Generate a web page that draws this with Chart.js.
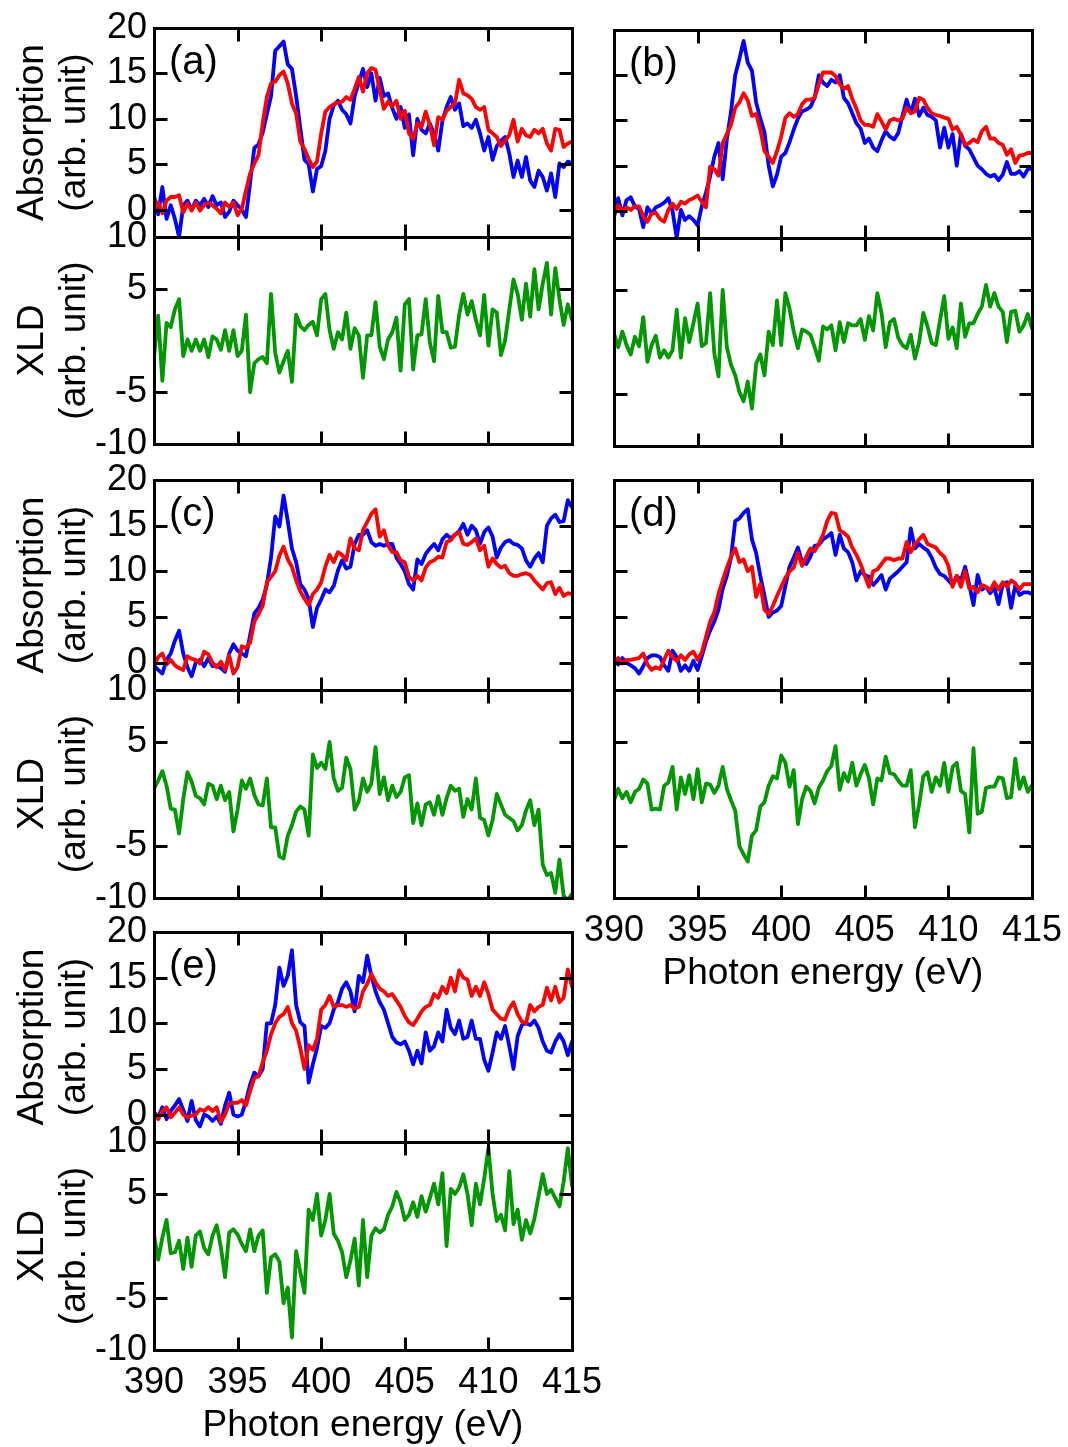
<!DOCTYPE html>
<html>
<head>
<meta charset="utf-8">
<title>N K-edge absorption and XLD spectra</title>
<script src="https://cdn.jsdelivr.net/npm/chart.js@4/dist/chart.umd.min.js"></script>
<style>
  html, body { margin: 0; padding: 0; background: #fff; overflow: hidden; }
  #page { position: relative; width: 1068px; height: 1447px; background: #fff; overflow: hidden; }
  #page canvas { position: absolute; }
</style>
</head>
<body>
<div id="page"></div>
<script>
// Photon energy sampling grid (eV), 0.25 eV step from 390 to 415
const energy = Array.from({ length: 101 }, (_, i) => 390 + 0.25 * i);
const energyTicks = [390, 395, 400, 405, 410, 415];
const absTicks = [0, 5, 10, 15, 20];
const xldTicks = [-10, -5, 5, 10];

// ---- (a) ----
const aBlue = [1.5, -0.5, 2.5, -1.0, 0.5, -1.0, -3.0, 0.5, 1.0, 0.0,
  1.0, 0.5, 1.2, 0.3, 1.5, 0.5, 0.8, -0.8, -0.2, 1.0,
  0.5, 0.0, -0.8, 3.0, 6.8, 7.2, 8.5, 10.5, 12.5, 17.5,
  18.0, 18.5, 16.0, 15.5, 12.5, 9.0, 5.5, 5.0, 2.0, 4.5,
  4.8, 6.5, 10.0, 11.5, 12.0, 11.0, 10.5, 9.5, 12.5, 14.0,
  15.5, 13.5, 15.0, 12.0, 14.5, 12.5, 12.8, 11.2, 10.0, 11.3,
  9.0, 10.5, 6.0, 10.0, 8.8, 8.4, 9.5, 8.4, 6.5, 9.8,
  11.3, 12.4, 11.0, 11.7, 9.2, 9.5, 9.0, 9.9, 8.4, 6.5,
  8.0, 5.5, 7.0, 7.6, 8.0, 6.2, 3.6, 5.4, 3.6, 5.8,
  3.2, 2.5, 4.3, 3.6, 2.1, 4.0, 1.4, 5.1, 4.7, 5.3,
  5.1];
const aRed = [-0.1, 0.8, -0.4, 1.0, 1.4, 1.4, 1.6, -0.3, 0.7, -0.1,
  0.8, -0.1, 0.5, 0.8, 0.5, 0.1, -0.4, 0.8, 0.3, 0.8,
  -0.6, 0.1, 2.1, 4.0, 5.1, 6.0, 9.5, 12.4, 13.9, 14.1,
  14.8, 15.2, 13.9, 11.7, 10.6, 7.5, 6.7, 5.6, 4.7, 5.3,
  8.4, 10.8, 11.3, 11.6, 11.8, 11.9, 12.4, 12.1, 13.3, 14.6,
  13.0, 15.0, 15.6, 15.4, 13.2, 11.1, 11.9, 11.4, 12.0, 10.0,
  10.9, 8.4, 7.8, 9.5, 9.1, 10.8, 9.3, 7.1, 10.2, 9.9,
  10.9, 11.3, 11.7, 14.3, 12.8, 12.6, 12.2, 11.3, 11.0, 11.3,
  8.8, 8.4, 8.0, 7.0, 7.6, 8.2, 9.9, 7.5, 8.9, 8.2,
  8.0, 8.8, 8.4, 8.9, 7.3, 6.5, 8.9, 8.8, 6.9, 7.3,
  7.5];
const aXld = [-1.6, 2.4, -3.9, 1.7, 1.3, 3.0, 4.0, -1.5, 0.1, -1.0,
  0.1, -1.0, 0.1, -1.6, 0.4, 0.1, -0.9, 1.0, -1.0, 1.0,
  -1.5, -1.0, 2.5, -5.0, -2.2, -1.8, -1.6, -2.2, 4.5, -1.2,
  -3.1, -2.0, -1.0, -4.0, 2.5, 1.4, 1.0, 1.5, 1.8, 0.5,
  4.0, 4.5, 1.0, -0.8, 0.8, 0.1, 2.7, -0.8, 1.2, 0.5,
  -3.6, 0.5, 0.5, 3.7, -0.6, -1.8, 0.1, 0.8, 2.2, -2.9,
  3.5, 4.0, -2.8, 0.5, 0.6, 4.0, -0.2, -2.0, 4.3, 0.8,
  0.8, -0.7, -0.6, 2.5, 4.5, 2.5, 3.8, 2.0, 0.5, 4.4,
  -0.5, 3.0, 2.7, -1.4, 0.0, 3.0, 5.9, 4.5, 2.0, 5.5,
  2.3, 6.9, 3.0, 5.5, 7.5, 2.5, 7.0, 4.0, 1.5, 3.5,
  2.0];

// ---- (b) ----
const bBlue = [-0.7, 1.4, -0.5, 1.2, 1.5, 0.5, 0.2, -1.8, 0.4, -0.3,
  0.4, 0.6, 0.9, 1.4, 0.0, -3.0, 0.1, -1.0, -0.6, -1.0,
  -1.6, 0.5, 2.0, 3.8, 6.0, 7.5, 3.5, 7.9, 11.0, 15.0,
  16.8, 18.8, 16.4, 15.5, 12.0, 10.2, 8.7, 5.0, 2.7, 4.0,
  6.0, 6.4, 7.6, 9.0, 10.2, 11.0, 11.2, 11.5, 12.5, 15.0,
  14.2, 13.8, 14.5, 14.2, 15.0, 12.5, 11.9, 10.8, 9.7, 9.1,
  7.5, 8.0, 7.0, 6.6, 7.8, 8.8, 8.2, 7.9, 8.6, 10.5,
  12.3, 10.8, 12.4, 10.5, 11.4, 10.6, 10.4, 10.0, 7.0, 9.2,
  7.0, 8.5, 5.0, 8.5, 7.2, 6.8, 5.9, 5.0, 4.6, 4.1,
  3.8, 4.0, 3.4, 4.0, 5.4, 4.1, 4.1, 4.4, 3.8, 4.6,
  4.7];
const bRed = [-0.3, 0.6, -0.1, 0.4, 0.1, 0.5, 0.5, -0.6, -1.2, -0.3,
  -0.2, -0.9, -1.2, 0.1, 0.8, 0.2, 1.0, 0.8, 1.2, 1.4,
  1.7, 1.0, 0.4, 4.9, 4.6, 3.9, 7.5, 8.5, 9.5, 11.4,
  12.0, 13.0, 12.2, 10.5, 10.7, 9.0, 6.6, 6.0, 5.3, 6.6,
  8.2, 10.3, 10.8, 10.4, 10.7, 11.8, 12.3, 12.3, 12.5, 14.0,
  15.3, 15.3, 15.3, 14.9, 14.0, 13.5, 13.8, 12.4, 11.3, 10.0,
  9.5, 9.5, 9.3, 10.7, 9.9, 9.0, 10.0, 10.2, 10.0, 10.2,
  11.4, 10.8, 11.0, 12.5, 12.3, 11.4, 10.8, 10.6, 10.5, 10.3,
  10.2, 9.0, 9.3, 8.4, 7.3, 7.5, 7.9, 7.6, 8.8, 9.3,
  8.0, 8.0, 7.5, 7.3, 6.2, 6.8, 5.3, 6.1, 6.2, 6.4,
  6.4];
const bXld = [0.8, -0.5, 1.0, -0.3, -1.2, 0.5, -0.4, 2.4, -1.9, -0.3,
  0.6, -1.5, -0.8, -1.5, -0.8, 3.1, -1.5, 2.3, 0.0, 1.8,
  3.7, -0.4, -0.1, 4.7, -1.1, -3.3, 5.0, -0.5, -2.2, -3.2,
  -4.8, -5.7, -3.8, -6.4, -2.1, -1.2, -3.2, 1.0, -0.3, 4.0,
  -0.3, 4.7, 3.2, 1.0, -0.6, 1.2, 1.0, 0.7, -0.5, -1.8,
  1.5, 1.2, 1.6, -0.8, 1.9, 0.0, 1.8, 1.6, 1.6, 2.2,
  0.2, 2.5, 1.1, 4.7, 2.8, -0.5, 1.9, 2.2, 0.4, -0.3,
  -0.6, 0.7, -1.6, 0.0, 2.8, 1.5, -0.1, -0.3, 2.1, 4.4,
  0.3, 1.4, -0.6, 3.7, 0.5, 1.8, 1.8, 2.7, 3.4, 5.5,
  3.4, 4.7, 3.4, 2.9, 0.0, 2.9, 3.0, 1.0, 1.6, 2.7,
  1.3];

// ---- (c) ----
const cBlue = [-0.3, -0.8, -1.2, 0.3, 1.0, 2.4, 3.5, 1.0, -0.5, -1.5,
  0.0, 0.3, -0.4, 0.5, -0.4, -0.3, -0.6, -1.0, 1.0, 2.0,
  1.3, 1.0, 0.7, 3.0, 5.4, 6.0, 6.9, 8.5, 11.5, 16.0,
  14.9, 18.3, 15.5, 12.5, 11.0, 8.6, 8.0, 7.0, 3.9, 6.0,
  6.9, 8.0, 7.7, 8.4, 10.1, 11.2, 10.3, 10.5, 13.0, 14.0,
  14.0, 14.5, 13.2, 12.8, 13.0, 12.8, 13.0, 13.0, 11.5, 10.8,
  10.0, 8.6, 8.0, 11.3, 10.8, 11.9, 12.5, 13.0, 12.3, 13.5,
  14.0, 13.6, 14.0, 14.4, 15.2, 14.0, 15.0, 14.5, 13.0, 14.3,
  14.8, 13.8, 11.5, 12.6, 13.2, 13.4, 13.0, 12.9, 12.5, 11.2,
  10.5, 11.4, 12.0, 11.0, 15.0, 15.8, 16.2, 15.4, 15.5, 17.8,
  17.0];
const cRed = [-0.3, 0.6, 1.0, -0.2, 0.3, -0.3, -0.6, -0.8, 0.7, 0.4,
  0.3, -0.1, 1.2, 0.9, 0.0, -0.5, 0.1, -0.8, 0.8, -1.2,
  -0.5, 1.8, 1.6, 2.2, 4.5, 5.3, 6.2, 8.8, 9.4, 10.0,
  11.7, 12.7, 11.3, 10.5, 9.0, 7.8, 7.0, 6.3, 7.5, 8.0,
  8.8, 10.5, 11.8, 11.0, 12.1, 11.8, 11.2, 13.6, 12.5, 12.3,
  14.5, 15.4, 16.3, 16.8, 13.8, 14.5, 12.8, 12.1, 12.1, 11.2,
  11.0, 9.4, 9.0, 9.5, 9.0, 10.4, 11.0, 11.2, 11.6, 11.5,
  13.2, 13.4, 14.0, 14.3, 13.0, 12.9, 13.2, 13.6, 12.3, 12.8,
  10.5, 11.4, 10.8, 10.4, 10.6, 9.8, 9.5, 9.5, 9.7, 9.8,
  9.6, 9.0, 8.5, 8.0, 8.7, 8.8, 7.5, 8.2, 7.3, 7.6,
  7.5];
const cXld = [0.5, 1.3, 2.2, 0.8, -1.4, -1.5, -3.8, -0.5, 2.1, 1.2,
  -0.2, -0.4, -1.0, 1.0, 0.8, -0.5, 0.8, -0.6, 0.2, -3.6,
  -1.5, 1.3, 0.5, 1.5, -0.1, -1.0, -1.1, 1.5, -3.2, -3.2,
  -6.0, -6.2, -4.0, -3.0, -1.7, -1.2, -1.5, -4.0, 3.8, 2.5,
  3.0, 2.4, 5.0, 1.5, 0.3, 0.6, 3.5, 2.4, -1.5, -0.7,
  1.5, 0.2, 1.0, 4.5, 0.0, 1.6, -0.6, 0.8, -0.3, 0.2,
  1.6, 1.8, -2.8, -0.9, -3.0, -1.0, -0.8, -2.0, -0.2, -2.0,
  -0.4, 0.8, 0.3, 0.5, -2.2, -0.5, -1.5, 1.5, -2.3, -2.5,
  -4.0, -2.5, 0.0, -1.0, -2.0, -2.3, -2.6, -3.5, -3.0, -1.6,
  -0.6, -3.0, -1.5, -6.8, -7.8, -7.6, -9.5, -6.3, -9.8, -10.2,
  -9.6];

// ---- (d) ----
const dBlue = [0.4, -0.2, 0.5, 0.0, -0.3, -0.6, -1.2, -0.4, 0.5, 0.8,
  0.8, 0.6, -0.3, -0.9, 1.3, 0.6, -0.9, -0.3, -0.9, 0.2,
  -0.8, 0.7, 2.3, 3.5, 4.5, 5.8, 8.1, 9.5, 11.5, 15.5,
  15.8, 16.4, 16.8, 13.5, 12.0, 9.5, 7.3, 5.0, 5.5, 5.7,
  6.2, 8.4, 10.5, 11.5, 12.6, 11.0, 10.8, 11.6, 12.8, 12.9,
  13.5, 13.8, 14.2, 11.8, 14.0, 12.5, 12.1, 11.0, 9.0, 10.0,
  9.6, 9.4, 8.5, 9.0, 9.6, 8.0, 9.2, 9.6, 10.0, 10.5,
  11.0, 14.7, 12.5, 13.0, 12.6, 12.3, 11.5, 10.4, 9.7, 9.5,
  9.0, 8.5, 9.5, 9.0, 10.5, 8.5, 6.3, 9.6, 8.0, 8.3,
  7.6, 8.2, 6.4, 8.6, 8.8, 6.0, 8.5, 7.4, 7.7, 7.7,
  7.5];
const dRed = [0.2, 0.5, -0.1, 0.3, 0.3, 0.4, 0.5, 1.0, -0.2, -0.8,
  -0.5, -0.7, 0.3, 1.3, 0.6, 0.2, 0.8, 0.3, 0.9, 1.2,
  0.3, 1.1, 2.8, 4.5, 5.5, 7.5, 9.0, 10.4, 11.6, 12.5,
  11.0, 11.3, 10.0, 10.5, 7.2, 8.6, 5.8, 5.3, 6.2, 7.3,
  8.3, 9.3, 10.0, 10.4, 12.0, 10.6, 11.6, 12.5, 12.2, 13.0,
  14.0, 15.5, 16.4, 16.3, 14.5, 14.2, 13.8, 12.6, 11.8, 10.8,
  9.5, 8.3, 10.0, 10.2, 10.8, 11.4, 11.4, 11.2, 11.4, 11.4,
  13.2, 12.1, 13.0, 13.5, 14.0, 13.0, 12.8, 12.6, 12.0, 11.6,
  10.6, 8.3, 9.5, 8.3, 10.0, 8.1, 8.3, 7.7, 8.5, 8.3,
  7.9, 8.8, 8.0, 8.8, 8.3, 9.0, 8.7, 8.0, 8.6, 8.6,
  8.6];
const dXld = [-0.6, 0.5, -0.4, 0.2, -0.8, 0.2, 0.5, 1.4, 1.0, -1.5,
  -1.4, -1.5, 0.8, 1.1, 2.6, -1.5, 1.6, 0.0, 1.8, -0.5,
  2.4, -0.8, 1.0, 0.9, 0.1, 0.8, 2.6, 0.5, -0.6, -1.6,
  -5.0, -5.8, -6.5, -4.0, -3.5, -1.2, -0.8, 0.8, 1.7, 1.5,
  3.7, 3.0, 0.7, 2.3, -2.9, -0.5, 0.7, 0.3, -0.9, 0.6,
  1.3, 2.2, 2.7, 4.6, 0.4, 2.0, 1.2, 3.0, 0.8, 1.9,
  2.8, 1.5, -1.0, 1.5, 1.3, 3.6, 2.0, 1.9, 1.3, 0.8,
  0.8, 2.3, -3.2, -1.0, 1.7, 2.1, 0.2, 1.6, 0.8, 3.0,
  0.2, 2.6, 3.0, 0.3, 0.0, -3.7, 4.4, -1.9, -1.7, 0.6,
  0.7, 0.7, 1.6, 1.5, -0.4, -0.3, 3.4, 0.5, 1.6, 0.2,
  0.8];

// ---- (e) ----
const eBlue = [0.3, -0.3, 0.8, -0.5, 0.4, 1.0, 1.7, 0.5, -0.7, 1.5,
  -0.6, -1.3, 0.0, -0.2, -0.7, -0.2, -1.0, 1.0, 2.4, 0.0,
  -0.2, 0.0, 1.5, 3.3, 4.6, 4.2, 5.0, 10.0, 10.0, 12.0,
  16.1, 14.1, 15.2, 18.0, 12.0, 10.1, 9.7, 3.5, 5.5, 7.3,
  9.7, 9.5, 10.0, 11.5, 12.3, 13.8, 14.5, 13.5, 11.3, 15.2,
  14.5, 17.4, 15.2, 13.5, 12.3, 11.5, 10.0, 8.5, 7.9, 7.7,
  8.0, 7.0, 5.5, 7.0, 5.6, 9.0, 7.0, 7.5, 9.0, 8.0,
  11.5, 9.5, 8.8, 10.3, 8.3, 8.5, 10.3, 8.3, 8.3, 6.0,
  4.8, 6.8, 9.0, 8.3, 9.7, 7.5, 5.0, 8.6, 9.8, 10.0,
  9.8, 10.3, 9.5, 8.0, 7.0, 6.8, 8.0, 8.8, 8.0, 6.5,
  8.0];
const eRed = [0.3, -0.5, 0.4, 0.8, -0.3, 0.2, 0.8, 0.0, -0.3, -0.1,
  0.0, 0.6, 0.4, 0.8, 0.4, 0.8, -0.8, 0.0, 1.2, 1.3,
  1.3, 1.6, 1.0, 2.6, 4.0, 4.2, 5.7, 7.0, 8.8, 10.0,
  10.7, 11.0, 11.8, 10.0, 9.2, 7.3, 5.0, 7.6, 7.1, 8.3,
  11.5, 12.0, 13.0, 11.8, 12.0, 12.0, 11.8, 12.0, 11.6, 11.8,
  13.5, 14.3, 15.4, 14.5, 13.8, 13.5, 13.0, 13.2, 12.5, 11.8,
  10.8, 10.1, 9.8, 10.5, 11.3, 11.8, 12.0, 13.2, 12.8, 14.0,
  13.3, 15.0, 13.5, 15.8, 15.0, 14.8, 13.0, 14.0, 13.0, 14.5,
  13.2, 11.5, 11.0, 10.5, 10.4, 11.6, 12.3, 11.0, 10.2, 10.0,
  12.0, 11.3, 11.8, 12.0, 13.9, 12.5, 14.0, 12.3, 12.8, 15.9,
  14.0];
const eXld = [1.1, -1.3, 0.8, 2.5, -0.7, -0.6, 0.5, -2.2, 0.8, -2.0,
  1.0, 1.4, -0.2, -0.8, 1.0, 2.0, -0.1, -3.0, 1.3, 1.6,
  1.1, 0.2, -0.5, 1.6, -0.5, 1.0, 1.5, -4.5, -1.1, -0.8,
  -1.5, -5.5, -4.0, -8.8, -0.5, -2.5, -4.5, 3.5, 2.5, 5.0,
  1.0, 2.5, 5.0, 1.2, 0.5, -0.6, -3.0, -1.4, 0.7, -3.8,
  2.5, -3.0, 1.0, 1.7, 1.3, 1.6, 3.0, 3.8, 5.2, 4.2,
  2.5, 3.0, 4.2, 2.8, 4.8, 3.3, 4.6, 6.0, 4.0, 7.0,
  0.0, 5.5, 5.0, 5.6, 6.9, 5.0, 2.0, 6.0, 4.0, 6.5,
  9.4, 5.0, 2.4, 3.0, 1.5, 7.2, 2.1, 3.5, 0.6, 2.5,
  1.2, 2.6, 4.8, 6.9, 5.0, 5.4, 4.6, 3.8, 6.2, 9.4,
  5.8];

// ---------------- layout & styling ----------------
const FONT = '"Liberation Sans", Arial, Helvetica, sans-serif';
Chart.defaults.font.family = FONT;
Chart.defaults.color = '#000';

const BLUE = '#0000ff', RED = '#ff0000', GREEN = '#009600';
const COL_LEFT = [0, 460];      // canvas offset of each column
const AXIS_W = 154;             // room for y tick labels and titles
const PLOT_RIGHT = 572;         // right edge of the plot area inside a canvas
const CANVAS_W = 640;
const PAD_TOP = 34, PAD_BOTTOM = 34, X_AXIS_H = 98;
const MARK_LEN = 13;

const panels = [
  { tag: '(a)', col: 0, top: 28,  split: 237,  bottom: 444,  blue: aBlue, red: aRed, xld: aXld, energyAxis: false },
  { tag: '(b)', col: 1, top: 30,  split: 238,  bottom: 446,  blue: bBlue, red: bRed, xld: bXld, energyAxis: false },
  { tag: '(c)', col: 0, top: 480, split: 690,  bottom: 898,  blue: cBlue, red: cRed, xld: cXld, energyAxis: false },
  { tag: '(d)', col: 1, top: 480, split: 690,  bottom: 898,  blue: dBlue, red: dRed, xld: dXld, energyAxis: true },
  { tag: '(e)', col: 0, top: 932, split: 1142, bottom: 1350, blue: eBlue, red: eRed, xld: eXld, energyAxis: true }
];

const page = document.getElementById('page');

// Frame with inward tick marks on all four sides, plus the panel tag
function framePlugin(yMarks, tag) {
  return {
    id: 'panelFrame',
    afterDatasetsDraw(chart) {
      const { ctx, chartArea: a } = chart;
      const xs = chart.scales.x, ys = chart.scales.y;
      const L = Math.round(a.left) + 0.5, R = Math.round(a.right) + 0.5;
      const T = Math.round(a.top) + 0.5, B = Math.round(a.bottom) + 0.5;
      ctx.save();
      ctx.strokeStyle = '#000';
      ctx.lineWidth = 3;
      ctx.beginPath();
      [395, 400, 405, 410].forEach(v => {
        const p = Math.round(xs.getPixelForValue(v)) + 0.5;
        ctx.moveTo(p, T); ctx.lineTo(p, T + MARK_LEN);
        ctx.moveTo(p, B); ctx.lineTo(p, B - MARK_LEN);
      });
      yMarks.forEach(v => {
        const p = Math.round(ys.getPixelForValue(v)) + 0.5;
        ctx.moveTo(L, p); ctx.lineTo(L + MARK_LEN, p);
        ctx.moveTo(R, p); ctx.lineTo(R - MARK_LEN, p);
      });
      ctx.stroke();
      ctx.strokeRect(L, T, R - L, B - T);
      if (tag) {
        ctx.fillStyle = '#000';
        ctx.font = '40px ' + FONT;
        ctx.textAlign = 'left';
        ctx.textBaseline = 'alphabetic';
        ctx.fillText(tag, a.left + 15, a.top + 46);
      }
      ctx.restore();
    }
  };
}

function series(values, color) {
  return {
    data: energy.map((e, i) => ({ x: e, y: values[i] })),
    borderColor: color,
    borderWidth: 3.8,
    borderJoinStyle: 'round',
    borderCapStyle: 'round',
    pointRadius: 0,
    tension: 0,
    fill: false
  };
}

function makeChart(cfg) {
  const canvas = document.createElement('canvas');
  const plotH = cfg.bottom - cfg.top;
  const below = cfg.energyAxis ? X_AXIS_H : PAD_BOTTOM;
  canvas.width = CANVAS_W;
  canvas.height = PAD_TOP + plotH + below;
  canvas.style.left = COL_LEFT[cfg.col] + 'px';
  canvas.style.top = (cfg.top - PAD_TOP) + 'px';
  canvas.style.width = CANVAS_W + 'px';
  canvas.style.height = canvas.height + 'px';
  page.appendChild(canvas);

  const showY = cfg.col === 0;
  new Chart(canvas, {
    type: 'line',
    data: { datasets: cfg.datasets },
    plugins: [framePlugin(cfg.yMarks, cfg.tag)],
    options: {
      responsive: false,
      animation: false,
      events: [],
      devicePixelRatio: 1,
      layout: { padding: { top: PAD_TOP, bottom: cfg.energyAxis ? 0 : PAD_BOTTOM, left: 0, right: CANVAS_W - PLOT_RIGHT } },
      plugins: { legend: { display: false }, tooltip: { enabled: false } },
      scales: {
        x: {
          type: 'linear', position: 'bottom', min: 390, max: 415,
          grid: { display: false, drawTicks: false },
          border: { display: false },
          afterBuildTicks: s => { s.ticks = energyTicks.map(v => ({ value: v })); },
          afterFit: s => { s.height = cfg.energyAxis ? X_AXIS_H : 0; },
          ticks: { display: cfg.energyAxis, padding: 11, autoSkip: false, maxRotation: 0,
                   font: { size: 36 }, callback: v => String(v) },
          title: { display: cfg.energyAxis, text: 'Photon energy (eV)',
                   font: { size: 37 }, padding: { top: 0, bottom: 0 } }
        },
        y: {
          type: 'linear', position: 'left', min: cfg.yMin, max: cfg.yMax,
          grid: { display: false, drawTicks: false },
          border: { display: false },
          afterBuildTicks: s => { s.ticks = cfg.yTicks.map(v => ({ value: v })); },
          afterFit: s => { s.width = AXIS_W; },
          ticks: { display: showY, padding: 7, font: { size: 36 }, callback: v => String(v) },
          title: { display: showY, text: cfg.yTitle,
                   font: { size: 37, lineHeight: 1.135 }, padding: { top: 12, bottom: 0 } }
        }
      }
    }
  });
}

panels.forEach(p => {
  // absorption (red drawn over blue)
  makeChart({
    col: p.col, top: p.top, bottom: p.split, energyAxis: false, tag: p.tag,
    yMin: -3, yMax: 20, yTicks: absTicks, yMarks: [0, 5, 10, 15],
    yTitle: ['Absorption', '(arb. unit)'],
    datasets: [series(p.red, RED), series(p.blue, BLUE)]
  });
  // linear dichroism
  makeChart({
    col: p.col, top: p.split, bottom: p.bottom, energyAxis: p.energyAxis, tag: null,
    yMin: -10, yMax: 10, yTicks: xldTicks, yMarks: [-5, 5],
    yTitle: ['XLD', '(arb. unit)'],
    datasets: [series(p.xld, GREEN)]
  });
});
</script>
</body>
</html>
